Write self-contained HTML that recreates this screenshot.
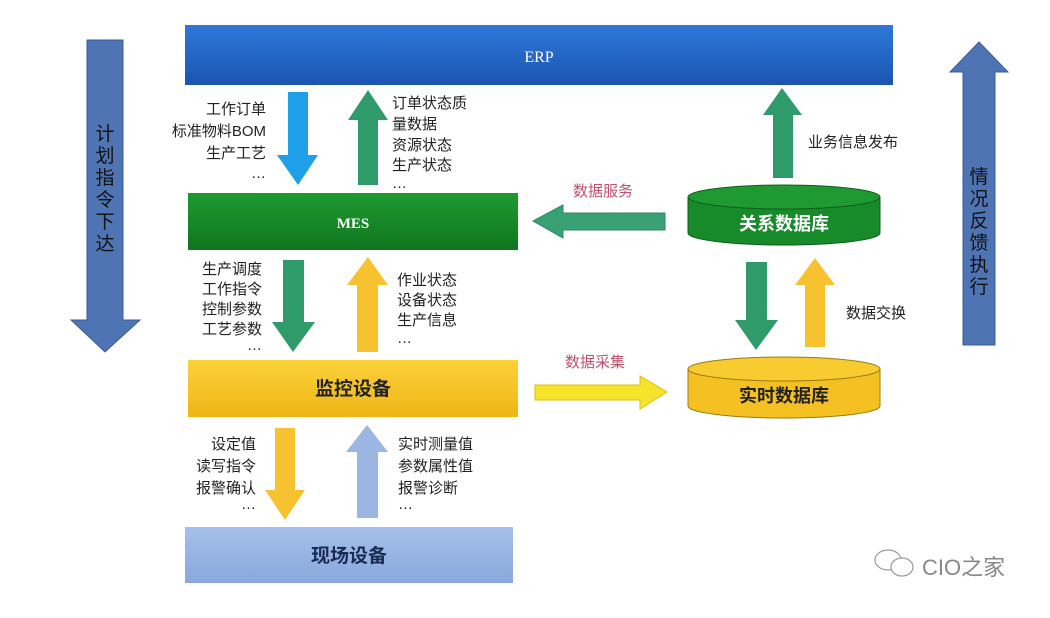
<!DOCTYPE html>
<html><head><meta charset="utf-8"><style>
html,body{margin:0;padding:0;background:#fff;}
svg text{font-family:"Liberation Sans","Noto Sans CJK SC",sans-serif;}
svg text.serif{font-family:"Liberation Serif",serif;}
</style></head><body>
<svg width="1050" height="613" viewBox="0 0 1050 613" xmlns="http://www.w3.org/2000/svg">
<defs>
<linearGradient id="gErp" x1="0" y1="0" x2="0" y2="1"><stop offset="0" stop-color="#2f78d8"/><stop offset="1" stop-color="#1a55b0"/></linearGradient>
<linearGradient id="gMes" x1="0" y1="0" x2="0" y2="1"><stop offset="0" stop-color="#1f9a30"/><stop offset="1" stop-color="#10761f"/></linearGradient>
<linearGradient id="gMon" x1="0" y1="0" x2="0" y2="1"><stop offset="0" stop-color="#fbd23a"/><stop offset="1" stop-color="#efb516"/></linearGradient>
<linearGradient id="gFld" x1="0" y1="0" x2="0" y2="1"><stop offset="0" stop-color="#a5c1ea"/><stop offset="1" stop-color="#88a8dc"/></linearGradient>
</defs>
<rect width="1050" height="613" fill="#fff"/>
<rect x="185" y="25" width="708" height="60" fill="url(#gErp)"/>
<text class="serif" x="539" y="62" font-size="16" fill="#fff" text-anchor="middle">ERP</text>
<rect x="188" y="193" width="330" height="57" fill="url(#gMes)"/>
<text class="serif" x="353" y="228" font-size="15" fill="#fff" text-anchor="middle" font-weight="bold">MES</text>
<rect x="188" y="360" width="330" height="57" fill="url(#gMon)"/>
<text x="353" y="395" font-size="19" fill="#222" text-anchor="middle" font-weight="bold">监控设备</text>
<rect x="185" y="527" width="328" height="56" fill="url(#gFld)"/>
<text x="349" y="562" font-size="19" fill="#1a2a50" text-anchor="middle" font-weight="bold">现场设备</text>
<polygon points="87,40 123,40 123,320 140,320 105,352 71,320 87,320" fill="#4f74b4" stroke="#3a5c98"/>
<text font-size="19" fill="#111" text-anchor="middle"><tspan x="105" y="140">计</tspan><tspan x="105" y="162">划</tspan><tspan x="105" y="184">指</tspan><tspan x="105" y="206">令</tspan><tspan x="105" y="228">下</tspan><tspan x="105" y="250">达</tspan></text>
<polygon points="963,345 995,345 995,72 1008,72 979,42 950,72 963,72" fill="#4f74b4" stroke="#3a5c98"/>
<text font-size="19" fill="#111" text-anchor="middle"><tspan x="979" y="183">情</tspan><tspan x="979" y="205">况</tspan><tspan x="979" y="227">反</tspan><tspan x="979" y="249">馈</tspan><tspan x="979" y="271">执</tspan><tspan x="979" y="293">行</tspan></text>
<polygon points="288,92 308,92 308,155 318,155 298,185 277,155 288,155" fill="#1fa0e8"/>
<polygon points="358,185 378,185 378,120 388,120 368,90 348,120 358,120" fill="#2f9a6a"/>
<g font-size="15" fill="#222">
<text x="266" y="114" text-anchor="end">工作订单</text>
<text x="266" y="136" text-anchor="end">标准物料BOM</text>
<text x="266" y="158" text-anchor="end">生产工艺</text>
<text x="266" y="178" text-anchor="end">…</text>
<text x="392" y="108">订单状态质</text>
<text x="392" y="129">量数据</text>
<text x="392" y="150">资源状态</text>
<text x="392" y="170">生产状态</text>
<text x="392" y="188">…</text>
<text x="262" y="274" text-anchor="end">生产调度</text>
<text x="262" y="294" text-anchor="end">工作指令</text>
<text x="262" y="314" text-anchor="end">控制参数</text>
<text x="262" y="334" text-anchor="end">工艺参数</text>
<text x="262" y="350" text-anchor="end">…</text>
<text x="397" y="285">作业状态</text>
<text x="397" y="305">设备状态</text>
<text x="397" y="325">生产信息</text>
<text x="397" y="343">…</text>
<text x="256" y="449" text-anchor="end">设定值</text>
<text x="256" y="471" text-anchor="end">读写指令</text>
<text x="256" y="493" text-anchor="end">报警确认</text>
<text x="256" y="509" text-anchor="end">…</text>
<text x="398" y="449">实时测量值</text>
<text x="398" y="471">参数属性值</text>
<text x="398" y="493">报警诊断</text>
<text x="398" y="509">…</text>
<text x="808" y="147">业务信息发布</text>
<text x="846" y="318">数据交换</text>
</g>
<polygon points="283,260 304,260 304,322 315,322 293,352 272,322 283,322" fill="#2f9a6a"/>
<polygon points="357,352 378,352 378,285 388,285 368,257 347,285 357,285" fill="#f7c230"/>
<polygon points="275,428 295,428 295,490 305,490 285,520 265,490 275,490" fill="#f7c230"/>
<polygon points="357,518 378,518 378,452 388,452 367,425 346,452 357,452" fill="#9bb6e2"/>
<polygon points="773,178 793,178 793,115 802,115 782,88 763,115 773,115" fill="#2f9a6a"/>
<polygon points="746,262 767,262 767,320 778,320 756,350 735,320 746,320" fill="#2f9a6a"/>
<polygon points="805,347 825,347 825,285 835,285 815,258 795,285 805,285" fill="#f7c230"/>
<polygon points="665,213 665,230 563,230 563,238 533,221 563,205 563,213" fill="#3aa076" stroke="#2b8a60"/>
<text x="603" y="196" font-size="15" fill="#c05070" text-anchor="middle">数据服务</text>
<polygon points="535,385 535,400 640,400 640,409 667,392 640,376 640,385" fill="#f5e42a" stroke="#d8c010"/>
<text x="595" y="367" font-size="15" fill="#c05070" text-anchor="middle">数据采集</text>
<path d="M688,197 L688,233 A96,12 0 0 0 880,233 L880,197" fill="#178a2a" stroke="#0e5e1a"/>
<ellipse cx="784" cy="197" rx="96" ry="12" fill="#1f9a32" stroke="#0e5e1a"/>
<text x="784" y="230" font-size="18" fill="#fff" text-anchor="middle" font-weight="bold">关系数据库</text>
<path d="M688,369 L688,406 A96,12 0 0 0 880,406 L880,369" fill="#f5c022" stroke="#9a7a10"/>
<ellipse cx="784" cy="369" rx="96" ry="12" fill="#f8cc30" stroke="#9a7a10"/>
<text x="784" y="402" font-size="18" fill="#222" text-anchor="middle" font-weight="bold">实时数据库</text>
<g fill="none" stroke="#999" stroke-width="1.2">
<ellipse cx="888" cy="560" rx="13" ry="10"/>
<ellipse cx="902" cy="567" rx="11" ry="9" fill="#fff"/>
</g>
<text x="922" y="575" font-size="22" fill="#888">CIO之家</text>
</svg>
</body></html>
